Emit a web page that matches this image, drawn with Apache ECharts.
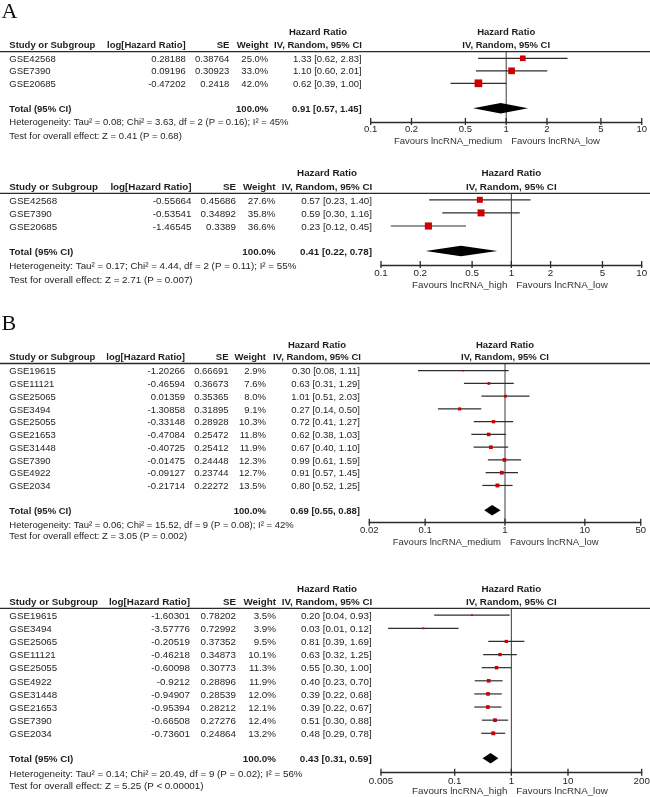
<!DOCTYPE html>
<html><head><meta charset="utf-8">
<script src="https://cdn.jsdelivr.net/npm/echarts@6/dist/echarts.min.js"></script>
<style>html,body{margin:0;padding:0;background:#fff}#c{width:650px;height:797px}</style>
</head><body><div id="c"></div>
<script>
// ================= DATA =================
// Panel A (top): lncRNA_medium vs lncRNA_low
const a1Studies = ['GSE42568', 'GSE7390', 'GSE20685'];
const a1LogHR = [0.28188, 0.09196, -0.47202];
const a1SE = [0.38764, 0.30923, 0.2418];
const a1Weight = [25.0, 33.0, 42.0];
const a1HR = [1.33, 1.10, 0.62];
const a1Lo = [0.62, 0.60, 0.39];
const a1Hi = [2.83, 2.01, 1.00];
const a1Total = [0.91, 0.57, 1.45];
const a1Het = 'Heterogeneity: Tau\u00b2 = 0.08; Chi\u00b2 = 3.63, df = 2 (P = 0.16); I\u00b2 = 45%';
const a1Test = 'Test for overall effect: Z = 0.41 (P = 0.68)';
const a1Ticks = [0.1, 0.2, 0.5, 1, 2, 5, 10];
const a1TickLabels = ['0.1', '0.2', '0.5', '1', '2', '5', '10'];
const a1Favours = ['Favours lncRNA_medium', 'Favours lncRNA_low'];

// Panel A (bottom): lncRNA_high vs lncRNA_low
const a2Studies = ['GSE42568', 'GSE7390', 'GSE20685'];
const a2LogHR = [-0.55664, -0.53541, -1.46545];
const a2SE = [0.45686, 0.34892, 0.3389];
const a2Weight = [27.6, 35.8, 36.6];
const a2HR = [0.57, 0.59, 0.23];
const a2Lo = [0.23, 0.30, 0.12];
const a2Hi = [1.40, 1.16, 0.45];
const a2Total = [0.41, 0.22, 0.78];
const a2Het = 'Heterogeneity: Tau\u00b2 = 0.17; Chi\u00b2 = 4.44, df = 2 (P = 0.11); I\u00b2 = 55%';
const a2Test = 'Test for overall effect: Z = 2.71 (P = 0.007)';
const a2Ticks = [0.1, 0.2, 0.5, 1, 2, 5, 10];
const a2TickLabels = ['0.1', '0.2', '0.5', '1', '2', '5', '10'];
const a2Favours = ['Favours lncRNA_high', 'Favours lncRNA_low'];

// Panel B (top): lncRNA_medium vs lncRNA_low
const b1Studies = ['GSE19615', 'GSE11121', 'GSE25065', 'GSE3494', 'GSE25055', 'GSE21653', 'GSE31448', 'GSE7390', 'GSE4922', 'GSE2034'];
const b1LogHR = [-1.20266, -0.46594, 0.01359, -1.30858, -0.33148, -0.47084, -0.40725, -0.01475, -0.09127, -0.21714];
const b1SE = [0.66691, 0.36673, 0.35365, 0.31895, 0.28928, 0.25472, 0.25412, 0.24448, 0.23744, 0.22272];
const b1Weight = [2.9, 7.6, 8.0, 9.1, 10.3, 11.8, 11.9, 12.3, 12.7, 13.5];
const b1HR = [0.30, 0.63, 1.01, 0.27, 0.72, 0.62, 0.67, 0.99, 0.91, 0.80];
const b1Lo = [0.08, 0.31, 0.51, 0.14, 0.41, 0.38, 0.40, 0.61, 0.57, 0.52];
const b1Hi = [1.11, 1.29, 2.03, 0.50, 1.27, 1.03, 1.10, 1.59, 1.45, 1.25];
const b1Total = [0.69, 0.55, 0.88];
const b1Het = 'Heterogeneity: Tau\u00b2 = 0.06; Chi\u00b2 = 15.52, df = 9 (P = 0.08); I\u00b2 = 42%';
const b1Test = 'Test for overall effect: Z = 3.05 (P = 0.002)';
const b1Ticks = [0.02, 0.1, 1, 10, 50];
const b1TickLabels = ['0.02', '0.1', '1', '10', '50'];
const b1Favours = ['Favours lncRNA_medium', 'Favours lncRNA_low'];

// Panel B (bottom): lncRNA_high vs lncRNA_low
const b2Studies = ['GSE19615', 'GSE3494', 'GSE25065', 'GSE11121', 'GSE25055', 'GSE4922', 'GSE31448', 'GSE21653', 'GSE7390', 'GSE2034'];
const b2LogHR = [-1.60301, -3.57776, -0.20519, -0.46218, -0.60098, -0.9212, -0.94907, -0.95394, -0.66508, -0.73601];
const b2SE = [0.78202, 0.72992, 0.37352, 0.34873, 0.30773, 0.28896, 0.28539, 0.28212, 0.27276, 0.24864];
const b2Weight = [3.5, 3.9, 9.5, 10.1, 11.3, 11.9, 12.0, 12.1, 12.4, 13.2];
const b2HR = [0.20, 0.03, 0.81, 0.63, 0.55, 0.40, 0.39, 0.39, 0.51, 0.48];
const b2Lo = [0.04, 0.01, 0.39, 0.32, 0.30, 0.23, 0.22, 0.22, 0.30, 0.29];
const b2Hi = [0.93, 0.12, 1.69, 1.25, 1.00, 0.70, 0.68, 0.67, 0.88, 0.78];
const b2Total = [0.43, 0.31, 0.59];
const b2Het = 'Heterogeneity: Tau\u00b2 = 0.14; Chi\u00b2 = 20.49, df = 9 (P = 0.02); I\u00b2 = 56%';
const b2Test = 'Test for overall effect: Z = 5.25 (P < 0.00001)';
const b2Ticks = [0.005, 0.1, 1, 10, 200];
const b2TickLabels = ['0.005', '0.1', '1', '10', '200'];
const b2Favours = ['Favours lncRNA_high', 'Favours lncRNA_low'];

const panelLetters = ['A', 'B'];
const nullValue = 1;

// ================= LAYOUT =================
const FONT = '"Liberation Sans", Arial, Helvetica, sans-serif';
const TXT = '#1e1e1e';
const layouts = {
  A1: {fs: 9.5, h1: 32.7, h2: 45, lineY: 51.7, row0: 58.3, step: 12.5, totalY: 108.3, axisY: 122, het: 122.7, test: 136, tickDy: 7.5, fav: 140.9,
       plotL: 370.7, plotR: 641.7, cStudy: 9.3, cLog: 185.7, cSE: 229.3, cW: 268.3, cHR: 361.7, cHRhdr: 318},
  A2: {fs: 9.8, h1: 173.3, h2: 187.3, lineY: 193.3, row0: 199.8, step: 13.1, totalY: 251, axisY: 265, het: 266.3, test: 280, tickDy: 7.8, fav: 285,
       plotL: 381, plotR: 641.7, cStudy: 9.3, cLog: 191.5, cSE: 236, cW: 275.5, cHR: 372, cHRhdr: 327},
  B1: {fs: 9.5, h1: 345.7, h2: 357.7, lineY: 363.5, row0: 370.7, step: 12.75, totalY: 510.3, axisY: 522.7, het: 525, test: 536.7, tickDy: 8, fav: 542.7,
       plotL: 369.3, plotR: 640.7, cStudy: 9.3, cLog: 185, cSE: 228.5, cW: 266, cHR: 360, cHRhdr: 317},
  B2: {fs: 9.8, h1: 589.3, h2: 602.7, lineY: 608.3, row0: 615.2, step: 13.12, totalY: 758.3, axisY: 772.7, het: 774, test: 786.7, tickDy: 8.8, fav: 791.7,
       plotL: 381, plotR: 641.7, cStudy: 9.3, cLog: 190, cSE: 236, cW: 276, cHR: 371.7, cHRhdr: 327}
};
const letterPos = [[1.5, 12.6], [1.5, 324.3]];

const panels = [
  {L: layouts.A1, studies: a1Studies, logHR: a1LogHR, se: a1SE, weight: a1Weight, hr: a1HR, lo: a1Lo, hi: a1Hi, total: a1Total, het: a1Het, test: a1Test, ticks: a1Ticks, tickLabels: a1TickLabels, fav: a1Favours},
  {L: layouts.A2, studies: a2Studies, logHR: a2LogHR, se: a2SE, weight: a2Weight, hr: a2HR, lo: a2Lo, hi: a2Hi, total: a2Total, het: a2Het, test: a2Test, ticks: a2Ticks, tickLabels: a2TickLabels, fav: a2Favours},
  {L: layouts.B1, studies: b1Studies, logHR: b1LogHR, se: b1SE, weight: b1Weight, hr: b1HR, lo: b1Lo, hi: b1Hi, total: b1Total, het: b1Het, test: b1Test, ticks: b1Ticks, tickLabels: b1TickLabels, fav: b1Favours},
  {L: layouts.B2, studies: b2Studies, logHR: b2LogHR, se: b2SE, weight: b2Weight, hr: b2HR, lo: b2Lo, hi: b2Hi, total: b2Total, het: b2Het, test: b2Test, ticks: b2Ticks, tickLabels: b2TickLabels, fav: b2Favours}
];

function fmtHR(e, l, h) { return e.toFixed(2) + ' [' + l.toFixed(2) + ', ' + h.toFixed(2) + ']'; }
function tstyle(text, fs, align, bold, fill, family) {
  return {text: text, fill: fill || TXT, fontSize: fs, fontFamily: family || FONT, fontWeight: bold ? 'bold' : 'normal',
          align: align, textAlign: align, verticalAlign: 'middle', textVerticalAlign: 'middle'};
}
function gtext(x, y, text, fs, align, bold, fill, family) {
  return {type: 'text', x: x, y: y, silent: true, z: 10, style: tstyle(text, fs, align, bold, fill, family)};
}

const grids = [], xAxes = [], yAxes = [], series = [], graphics = [];

panels.forEach((p, k) => {
  const L = p.L;
  const n = p.studies.length;
  const totalIdx = (L.totalY - L.row0) / L.step;
  const midX = (L.plotL + L.plotR) / 2;

  grids.push({left: L.plotL, top: L.lineY, width: L.plotR - L.plotL, height: L.axisY - L.lineY, containLabel: false});
  xAxes.push({gridIndex: k, type: 'log', logBase: 10, min: p.ticks[0], max: p.ticks[p.ticks.length - 1], position: 'bottom',
    axisLine: {show: true, onZero: false, lineStyle: {color: '#2a2a2a', width: 1.3}},
    axisTick: {show: false}, axisLabel: {show: false}, splitLine: {show: false}});
  yAxes.push({gridIndex: k, type: 'value', inverse: true, show: false,
    min: (L.lineY - L.row0) / L.step, max: (L.axisY - L.row0) / L.step,
    axisLine: {show: false}, splitLine: {show: false}});

  // null line
  series.push({type: 'custom', xAxisIndex: k, yAxisIndex: k, silent: true, clip: false, z: 1, animation: false,
    data: [[nullValue, 0]], encode: {x: 0, y: 1},
    renderItem: (params, api) => {
      const cs = params.coordSys;
      const x = api.coord([api.value(0), api.value(1)])[0];
      return {type: 'line', shape: {x1: x, y1: cs.y, x2: x, y2: cs.y + cs.height}, style: {stroke: '#3c3c3c', lineWidth: 1}};
    }});

  // CI whiskers
  series.push({type: 'custom', xAxisIndex: k, yAxisIndex: k, silent: true, clip: false, z: 2, animation: false,
    data: p.logHR.map((v, i) => [Math.exp(v - 1.96 * p.se[i]), Math.exp(v + 1.96 * p.se[i]), i]),
    encode: {x: [0, 1], y: 2},
    renderItem: (params, api) => {
      const a = api.coord([api.value(0), api.value(2)]);
      const b = api.coord([api.value(1), api.value(2)]);
      return {type: 'line', shape: {x1: a[0], y1: a[1], x2: b[0], y2: b[1]}, style: {stroke: '#2e2e2e', lineWidth: 1.2}};
    }});

  // study squares
  series.push({type: 'scatter', xAxisIndex: k, yAxisIndex: k, silent: true, z: 3, animation: false,
    symbol: 'rect', symbolSize: v => 0.82 * Math.pow(v[2], 0.6),
    itemStyle: {color: '#cc0000', opacity: 1},
    data: p.logHR.map((v, i) => [Math.exp(v), i, p.weight[i]])});

  // total diamond
  series.push({type: 'custom', xAxisIndex: k, yAxisIndex: k, silent: true, clip: false, z: 3, animation: false,
    data: [[p.total[0], p.total[1], p.total[2], totalIdx]], encode: {x: [0, 1, 2], y: 3},
    renderItem: (params, api) => {
      const y = api.value(3);
      const c = api.coord([api.value(0), y]);
      const l = api.coord([api.value(1), y]);
      const r = api.coord([api.value(2), y]);
      const h = 5.3;
      return {type: 'polygon', shape: {points: [[l[0], l[1]], [c[0], c[1] - h], [r[0], r[1]], [c[0], c[1] + h]]}, style: {fill: '#000'}};
    }});

  // axis ticks + labels
  series.push({type: 'custom', xAxisIndex: k, yAxisIndex: k, silent: true, clip: false, z: 4, animation: false,
    data: p.ticks.map(v => [v, 0]), encode: {x: 0, y: 1},
    renderItem: (params, api) => {
      const cs = params.coordSys;
      const x = api.coord([api.value(0), 0])[0];
      const yb = cs.y + cs.height;
      return {type: 'group', children: [
        {type: 'line', shape: {x1: x, y1: yb - 4, x2: x, y2: yb + 3}, style: {stroke: '#2a2a2a', lineWidth: 1.3}},
        {type: 'text', x: x, y: yb + L.tickDy, style: tstyle(p.tickLabels[params.dataIndex], L.fs, 'center', false)}
      ]};
    }});

  // table rows (text)
  const rows = p.studies.map((s, i) => [nullValue, i]).concat([[nullValue, totalIdx]]);
  series.push({type: 'custom', xAxisIndex: k, yAxisIndex: k, silent: true, clip: false, z: 5, animation: false,
    data: rows, encode: {x: 0, y: 1},
    renderItem: (params, api) => {
      const i = params.dataIndex;
      const y = api.coord([api.value(0), api.value(1)])[1] + 1;
      let cells, bold = false;
      if (i < n) {
        cells = [[L.cStudy, p.studies[i], 'left'], [L.cLog, String(p.logHR[i]), 'right'], [L.cSE, String(p.se[i]), 'right'],
                 [L.cW, p.weight[i].toFixed(1) + '%', 'right'], [L.cHR, fmtHR(p.hr[i], p.lo[i], p.hi[i]), 'right']];
      } else {
        bold = true;
        cells = [[L.cStudy, 'Total (95% CI)', 'left'], [L.cW, '100.0%', 'right'], [L.cHR, fmtHR(p.total[0], p.total[1], p.total[2]), 'right']];
      }
      return {type: 'group', children: cells.map(c => ({type: 'text', x: c[0], y: y, style: tstyle(c[1], L.fs, c[2], bold)}))};
    }});

  // static headers
  graphics.push(gtext(L.cHRhdr, L.h1, 'Hazard Ratio', L.fs, 'center', true));
  graphics.push(gtext(midX, L.h1, 'Hazard Ratio', L.fs, 'center', true));
  graphics.push(gtext(L.cStudy, L.h2, 'Study or Subgroup', L.fs, 'left', true));
  graphics.push(gtext(L.cLog, L.h2, 'log[Hazard Ratio]', L.fs, 'right', true));
  graphics.push(gtext(L.cSE, L.h2, 'SE', L.fs, 'right', true));
  graphics.push(gtext(L.cW, L.h2, 'Weight', L.fs, 'right', true));
  graphics.push(gtext(L.cHRhdr, L.h2, 'IV, Random, 95% CI', L.fs, 'center', true));
  graphics.push(gtext(midX, L.h2, 'IV, Random, 95% CI', L.fs, 'center', true));
  graphics.push({type: 'line', silent: true, z: 10, shape: {x1: 0, y1: L.lineY, x2: 650, y2: L.lineY}, style: {stroke: '#2a2a2a', lineWidth: 1.3}});
  graphics.push(gtext(L.cStudy, L.het, p.het, L.fs, 'left', false));
  graphics.push(gtext(L.cStudy, L.test, p.test, L.fs, 'left', false));
  const nullX = L.plotL + (L.plotR - L.plotL) * (Math.log10(nullValue) - Math.log10(p.ticks[0])) / (Math.log10(p.ticks[p.ticks.length - 1]) - Math.log10(p.ticks[0]));
  graphics.push(gtext(nullX - 4, L.fav, p.fav[0], L.fs, 'right', false, '#333'));
  graphics.push(gtext(nullX + 5, L.fav, p.fav[1], L.fs, 'left', false, '#333'));
});

panelLetters.forEach((t, i) => {
  graphics.push(gtext(letterPos[i][0], letterPos[i][1], t, 22, 'left', false, '#111', '"Liberation Serif", "Times New Roman", serif'));
});

const chart = echarts.init(document.getElementById('c'), null, {renderer: 'canvas'});
chart.setOption({
  animation: false,
  backgroundColor: '#fff',
  textStyle: {fontFamily: FONT},
  grid: grids, xAxis: xAxes, yAxis: yAxes, series: series, graphic: {elements: graphics}
});
</script>
</body></html>
